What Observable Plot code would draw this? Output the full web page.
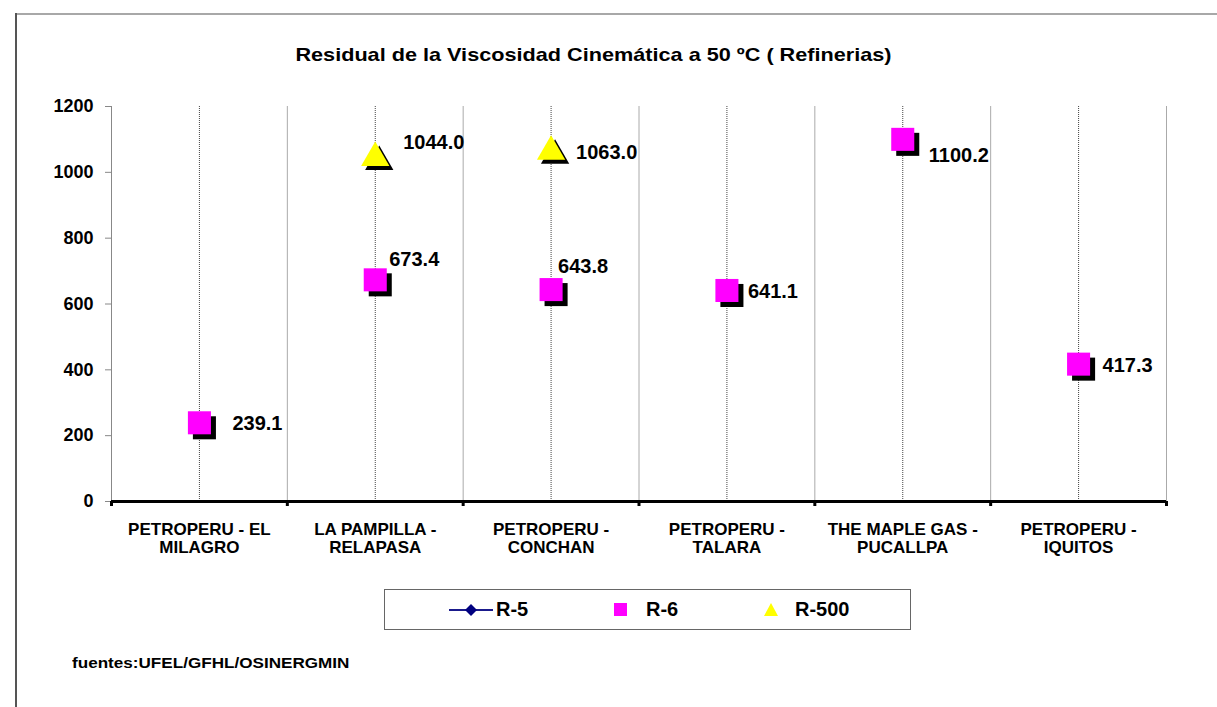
<!DOCTYPE html>
<html><head><meta charset="utf-8">
<script src="https://cdn.jsdelivr.net/npm/d3@7"></script>
<script src="https://cdn.jsdelivr.net/npm/@observablehq/plot@0.6"></script>
<style>
body{margin:0;background:#fff;font-family:"Liberation Sans",Arial,sans-serif;color:#000;}
#page{position:relative;width:1217px;height:707px;overflow:hidden;background:#fff;}
#frameTop{position:absolute;left:16px;top:13px;right:0;height:0;border-top:2px solid #a8a8a8;}
#frameLeft{position:absolute;left:15px;top:13px;bottom:0;width:0;border-left:2px solid #555;}
#title{position:absolute;top:44px;left:0;width:1186px;text-align:center;font-weight:bold;font-size:19px;white-space:nowrap;}
#title span{display:inline-block;transform:scaleX(1.14);}
#chart{position:absolute;left:0;top:90px;}
#legend{position:absolute;left:384px;top:589px;width:527px;height:41px;border:1px solid #666;box-sizing:border-box;font-weight:bold;font-size:20px;}
#legend .item{position:absolute;top:0;height:39px;display:flex;align-items:center;}
#legend svg{display:block;}
#caption{position:absolute;left:72px;top:654px;font-weight:bold;font-size:15px;white-space:nowrap;transform-origin:0 0;transform:scaleX(1.14);}
</style></head>
<body>
<div id="page">
  <div id="frameTop"></div>
  <div id="frameLeft"></div>
  <div id="title"><span></span></div>
  <div id="chart"></div>
  <div id="legend"></div>
  <div id="caption"></div>
</div>
<script>
// ---- data ----
const titleText = "Residual de la Viscosidad Cinemática a 50 ºC ( Refinerias)";
const captionText = "fuentes:UFEL/GFHL/OSINERGMIN";
const categories = [
  "PETROPERU - EL\nMILAGRO",
  "LA PAMPILLA -\nRELAPASA",
  "PETROPERU -\nCONCHAN",
  "PETROPERU -\nTALARA",
  "THE MAPLE GAS -\nPUCALLPA",
  "PETROPERU -\nIQUITOS"
];
const seriesNames = ["R-5", "R-6", "R-500"];
const r5Values = [null, null, null, null, null, null];
const r6Values = [239.1, 673.4, 643.8, 641.1, 1100.2, 417.3];
const r500Values = [null, 1044.0, 1063.0, null, null, null];
const yTicks = [0, 200, 400, 600, 800, 1000, 1200];

// ---- label placement (layout only) ----
const r6LabelOffsets = [[33, 1], [14, -20], [7, -23], [21, 1], [26, 16], [24, 1]];
const r500LabelOffsets = [null, [28, -15], [25, 1], null, null, null];

document.querySelector("#title span").textContent = titleText;
document.getElementById("caption").textContent = captionText;

const n = categories.length;
const centers = categories.map((c, i) => i + 0.5);
const bounds = d3.range(1, n + 1);

const toRows = (vals, offs) => vals.map((v, i) => ({x: i + 0.5, y: v, off: offs ? offs[i] : null}))
  .filter(d => d.y != null);
const r5 = toRows(r5Values, null);
const r6 = toRows(r6Values, r6LabelOffsets);
const r500 = toRows(r500Values, r500LabelOffsets);

const fmt = d3.format(".1f");
const labelMarks = [...r6, ...r500].map(d => Plot.text([d], {
  x: "x", y: "y", text: v => fmt(v.y), dx: d.off[0], dy: d.off[1],
  textAnchor: "start", fontSize: 20, fontWeight: "bold", fill: "#000"
}));

const chart = Plot.plot({
  width: 1217, height: 470,
  marginLeft: 111, marginRight: 51, marginTop: 16, marginBottom: 59,
  x: {type: "linear", domain: [0, n], label: null},
  y: {domain: [0, 1200], label: null},
  style: {fontFamily: "'Liberation Sans', Arial, sans-serif", fontWeight: "bold", fontSize: "16px", color: "#000", background: "transparent", overflow: "visible"},
  marks: [
    Plot.ruleX(bounds, {stroke: "#aaa", strokeWidth: 1}),
    Plot.ruleX(centers, {stroke: "#444", strokeWidth: 1, strokeDasharray: "1,1"}),
    Plot.ruleX([0], {stroke: "#888", strokeWidth: 1}),
    Plot.axisY({ticks: yTicks, tickSize: 6, tickPadding: 12, stroke: "#888", tickFormat: d3.format("d"), fontSize: 18, fontWeight: "bold", label: null}),
    Plot.axisX({ticks: [0, ...bounds], tickSize: 5, strokeWidth: 3, stroke: "#000", tickFormat: () => "", label: null}),
    Plot.axisX({ticks: centers, tickSize: 0, tickPadding: 21, tickFormat: v => categories[Math.round(v - 0.5)], lineHeight: 1.05, fontSize: 17, fontWeight: "bold", label: null}),
    Plot.ruleY([0], {stroke: "#000", strokeWidth: 3}),
    Plot.line(r5, {x: "x", y: "y", stroke: "#000080"}),
    Plot.dot(r5, {x: "x", y: "y", symbol: "diamond", fill: "#000080", r: 5}),
    Plot.dot(r6, {x: "x", y: "y", symbol: "square", r: 13, fill: "#000", dx: 5, dy: 5}),
    Plot.dot(r6, {x: "x", y: "y", symbol: "square", r: 13, fill: "#ff00ff"}),
    Plot.dot(r500, {x: "x", y: "y", symbol: "triangle", r: 10.5, fill: "#000", dx: 4, dy: 4}),
    Plot.dot(r500, {x: "x", y: "y", symbol: "triangle", r: 10.5, fill: "#ffff00"}),
    ...labelMarks
  ]
});
document.getElementById("chart").appendChild(chart);

// ---- legend ----
const legend = document.getElementById("legend");
const legendSymbols = [
  `<svg width="44" height="14"><line x1="0" y1="7" x2="44" y2="7" stroke="#1a1a8c" stroke-width="2"/><path d="M22 1 L28 7 L22 13 L16 7 Z" fill="#000080"/></svg>`,
  `<svg width="13" height="13"><rect x="0" y="0" width="13" height="13" fill="#ff00ff"/></svg>`,
  `<svg width="14" height="13"><path d="M7 0 L14 13 L0 13 Z" fill="#ffff00"/></svg>`
];
const legendLefts = [64, 229, 379];
const legendGaps = [3, 19, 17];
seriesNames.forEach((name, i) => {
  const it = document.createElement("div");
  it.className = "item";
  it.style.left = legendLefts[i] + "px";
  it.innerHTML = legendSymbols[i] + `<span style="margin-left:${legendGaps[i]}px">${name}</span>`;
  legend.appendChild(it);
});
</script>
</body></html>
